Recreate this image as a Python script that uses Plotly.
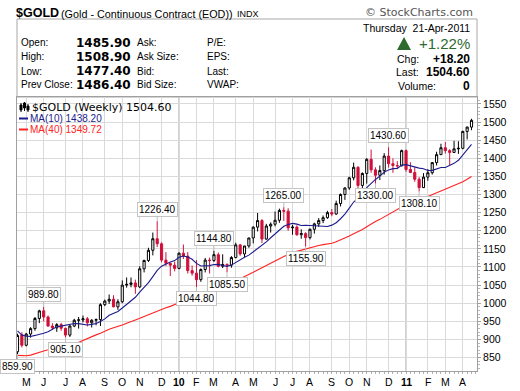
import plotly.graph_objects as go
import pandas as pd

# ---------------- data (weekly, Monday of each week) ----------------
week_start = "2009-04-20"
n_weeks = 105
opens = [866, 913, 884, 915, 930, 958, 979, 962, 937, 932, 941, 931, 912, 937, 953, 954, 957, 946, 953, 955,
         996, 1006, 1011, 990, 1004, 1050, 1052, 1056, 1045, 1095, 1118, 1146, 1178, 1164, 1119, 1110, 1105, 1096, 1138, 1130,
         1090, 1083, 1065, 1093, 1119, 1118, 1134, 1102, 1107, 1105, 1126, 1161, 1136, 1158, 1180, 1210, 1228, 1177, 1213, 1218,
         1229, 1256, 1254, 1208, 1210, 1189, 1192, 1181, 1204, 1219, 1228, 1236, 1250, 1246, 1275, 1300, 1318, 1346, 1375, 1325,
         1358, 1397, 1368, 1353, 1366, 1406, 1385, 1380, 1379, 1421, 1369, 1360.8, 1342, 1319, 1348, 1360, 1388, 1410, 1429, 1421,
         1416, 1426, 1427.4, 1474, 1485.9]
highs = [916, 920, 918, 934, 962, 982, 989.8, 966, 945, 945, 946, 932, 940, 957, 962, 966, 962, 956, 958, 1000,
         1010, 1024, 1022, 1011, 1063, 1071, 1071, 1065, 1102, 1120, 1153, 1195, 1226.4, 1168, 1141, 1112, 1115, 1140, 1162, 1141,
         1104, 1119, 1096, 1125, 1126, 1144.8, 1140, 1135, 1110, 1130, 1167, 1163, 1158, 1181, 1212, 1249, 1232, 1219, 1223, 1253,
         1261, 1265, 1262, 1216, 1215, 1204, 1196, 1206, 1222, 1235, 1242, 1255, 1260, 1283, 1303, 1320, 1349, 1388, 1378, 1361,
         1400, 1424, 1375, 1380, 1414, 1430.6, 1400, 1392, 1424, 1424, 1389, 1375, 1348, 1359, 1370, 1389, 1418, 1440, 1445, 1425,
         1448, 1447, 1476, 1487, 1508.9]
lows = [859.9, 878, 881, 905, 924, 945, 950, 935, 926, 921, 924, 905.1, 907, 934, 930, 947, 936, 933, 939, 937,
        992, 998, 989, 982, 1000, 1043, 1044, 1026, 1042, 1085, 1114, 1132, 1155, 1113, 1103, 1075, 1088, 1094, 1122, 1082,
        1076, 1044.8, 1059, 1085, 1082, 1114, 1099, 1097, 1085.5, 1098, 1124, 1131, 1127, 1153, 1165, 1198, 1166, 1175, 1195, 1212,
        1222, 1227, 1200, 1189, 1186, 1178, 1155.9, 1176, 1192, 1211, 1221, 1233, 1240, 1244, 1267, 1285, 1313, 1339, 1317, 1318,
        1330, 1360, 1330, 1340, 1355, 1374, 1360, 1370, 1378, 1363, 1359, 1335, 1308.1, 1318, 1338, 1355, 1380, 1409, 1413, 1380,
        1415, 1412, 1425, 1452, 1477.4]
closes = [911, 884, 915, 930, 958, 979, 962, 937, 932, 941, 931, 912, 937, 953, 954, 957, 946, 953, 955, 996,
          1006, 1011, 990, 1004, 1050, 1052, 1056, 1045, 1095, 1118, 1146, 1178, 1164, 1119, 1110, 1105, 1096, 1138, 1130, 1090,
          1083, 1065, 1093, 1119, 1118, 1134, 1102, 1107, 1105, 1126, 1161, 1136, 1158, 1180, 1210, 1228, 1177, 1213, 1218, 1229,
          1256, 1254, 1208, 1210, 1189, 1192, 1181, 1204, 1219, 1228, 1236, 1250, 1246, 1275, 1300, 1318, 1346, 1375, 1325, 1358,
          1397, 1368, 1353, 1366, 1406, 1385, 1380, 1379, 1421, 1369, 1360.8, 1342, 1319, 1348, 1360, 1388, 1410, 1429, 1421, 1416,
          1426, 1427.4, 1474, 1486, 1504.6]
# 39 weekly closes before the first shown week (needed for the moving averages)
prior_closes = [929, 912, 864, 785, 829, 833, 802, 762, 867, 887, 838, 860, 786, 734, 719, 736, 742, 794, 814, 753,
                822, 836, 872, 878, 851, 840, 897, 915, 912, 942, 1002, 942, 939, 930, 954, 925, 896, 870, 869]

high_label_weeks = [6, 32, 45, 61, 85]
low_label_weeks = [0, 11, 41, 48, 66, 82, 92]

month_ticks = ["2009-05-04", "2009-06-01", "2009-07-06", "2009-08-03", "2009-09-07", "2009-10-05", "2009-11-02",
               "2009-12-07", "2010-01-04", "2010-02-01", "2010-03-01", "2010-04-05", "2010-05-03", "2010-06-07",
               "2010-07-05", "2010-08-02", "2010-09-06", "2010-10-04", "2010-11-01", "2010-12-06", "2011-01-03",
               "2011-02-07", "2011-03-07", "2011-04-04"]
month_text = ["M", "J", "J", "A", "S", "O", "N", "D", "<b>10</b>", "F", "M", "A", "M", "J", "J", "A", "S", "O", "N",
              "D", "<b>11</b>", "F", "M", "A"]
year_lines = ["2010-01-04", "2011-01-03"]
y_ticks = list(range(850, 1551, 50))

weeks = pd.date_range(week_start, periods=n_weeks, freq="7D")
all_closes = pd.Series(prior_closes + closes)
ma10 = all_closes.rolling(10).mean().iloc[len(prior_closes):].tolist()
ma40 = all_closes.rolling(40).mean().iloc[len(prior_closes):].tolist()

# ---------------- layout helpers ----------------
W, H = 520, 391
PL, PR, PT, PB = 17, 477, 97, 371


def px(x):
    return (x - PL) / (PR - PL)


def py(y):
    return (PB - y) / (PB - PT)


RED = "#d0103a"
NAVY = "#1c1c8c"
MA_RED = "#ff2222"
GRID = "#dadada"
DKGREEN = "#2e6a2e"

fig = go.Figure()
fig.add_trace(go.Candlestick(
    x=weeks, open=opens, high=highs, low=lows, close=closes,
    increasing=dict(line=dict(color="black", width=1), fillcolor="white"),
    decreasing=dict(line=dict(color=RED, width=1), fillcolor=RED),
    whiskerwidth=0, showlegend=False, hoverinfo="skip"))
fig.add_trace(go.Scatter(x=weeks, y=ma40, mode="lines", line=dict(color=MA_RED, width=1.1),
                         showlegend=False, hoverinfo="skip"))
fig.add_trace(go.Scatter(x=weeks, y=ma10, mode="lines", line=dict(color=NAVY, width=1.1),
                         showlegend=False, hoverinfo="skip"))

shapes = []
# header box
shapes.append(dict(type="rect", xref="paper", yref="paper", x0=0, x1=1, y0=py(97), y1=py(19),
                   line=dict(color="#a8a8a8", width=1), fillcolor="white", layer="below"))
# year separators
for d in year_lines:
    shapes.append(dict(type="line", xref="x", yref="paper", x0=d, x1=d, y0=0, y1=1,
                       line=dict(color="#a0a0a0", width=1), layer="below"))
# green up triangle
shapes.append(dict(type="path", xref="paper", yref="paper",
                   path=f"M {px(397)} {py(50)} L {px(411)} {py(50)} L {px(404)} {py(37)} Z",
                   fillcolor=DKGREEN, line=dict(width=0)))
# legend icons
shapes.append(dict(type="line", xref="paper", yref="paper", x0=px(19), x1=px(28), y0=py(118.5), y1=py(118.5),
                   line=dict(color=NAVY, width=2)))
shapes.append(dict(type="line", xref="paper", yref="paper", x0=px(19), x1=px(28), y0=py(129.5), y1=py(129.5),
                   line=dict(color=MA_RED, width=2)))
for (xa, y0, y1, b0, b1) in [(21, 103, 112, 105, 110), (24.5, 102, 111, 103, 108), (28, 104, 112, 106, 110)]:
    shapes.append(dict(type="line", xref="paper", yref="paper", x0=px(xa), x1=px(xa), y0=py(y0), y1=py(y1),
                       line=dict(color="black", width=1)))
    shapes.append(dict(type="rect", xref="paper", yref="paper", x0=px(xa - 1), x1=px(xa + 1), y0=py(b0), y1=py(b1),
                       line=dict(color="black", width=1), fillcolor="black"))

ann = []


def txt(x, y, s, size=11, color="black", anchor="left", family="Liberation Sans", bold=False):
    if bold:
        s = f"<b>{s}</b>"
    ann.append(dict(xref="paper", yref="paper", x=px(x), y=py(y), text=s, showarrow=False,
                    xanchor=anchor, yanchor="middle", borderpad=0,
                    font=dict(size=size, color=color, family=family)))


# title line
txt(15, 13, "$GOLD", size=12.5, family="Liberation Sans", bold=True)
txt(60, 13.5, "(Gold - Continuous Contract (EOD))", size=10.8)
txt(236, 14, "INDX", size=9)
txt(474, 13, "© StockCharts.com", size=11, color="#555555", anchor="right", family="DejaVu Sans")

# quote table
rows = [43, 57, 71, 84.5]
col1 = ["Open:", "High:", "Low:", "Prev Close:"]
col2 = ["1485.90", "1508.90", "1477.40", "1486.40"]
col3 = ["Ask:", "Ask Size:", "Bid:", "Bid Size:"]
col4 = ["P/E:", "EPS:", "Last:", "VWAP:"]
for yy, a, b, c, d in zip(rows, col1, col2, col3, col4):
    txt(20, yy, a, size=10)
    txt(132, yy, b, size=12, family="DejaVu Sans", bold=True, anchor="right")
    txt(136, yy, c, size=10)
    txt(206, yy, d, size=10)

txt(471, 27.5, "Thursday  21-Apr-2011", size=10.5, anchor="right")
txt(471, 43.5, "+1.22%", size=15, color=DKGREEN, anchor="right")
txt(396, 59.5, "Chg:", size=10.5)
txt(471, 59.5, "+18.20", size=12, family="Liberation Sans", bold=True, anchor="right")
txt(395, 72, "Last:", size=10.5)
txt(471, 72, "1504.60", size=12, family="Liberation Sans", bold=True, anchor="right")
txt(397, 86, "Volume:", size=10.5)
txt(471, 86, "0", size=12, family="Liberation Sans", bold=True, anchor="right")

# chart legend
txt(31, 107.5, f"$GOLD (Weekly) {closes[-1]:.2f}", size=11, family="DejaVu Sans")
txt(29, 118.5, f"MA(10) {ma10[-1]:.2f}", size=10, color=NAVY)
txt(29, 129.5, f"MA(40) {ma40[-1]:.2f}", size=10, color=MA_RED)

# month labels along the bottom
for d, t in zip(month_ticks, month_text):
    ann.append(dict(xref="x", yref="paper", x=d, y=py(382), text=t, showarrow=False,
                    xanchor="center", yanchor="middle", borderpad=0,
                    font=dict(size=10.5, family="Liberation Sans", color="black")))

# high / low call-outs
lab_style = dict(showarrow=True, arrowhead=0, arrowwidth=1, arrowcolor="#bdbdbd", ax=0,
                 bordercolor="#c4c4c4", borderwidth=1, borderpad=1, bgcolor="white",
                 font=dict(size=10, color="black", family="Liberation Sans"))
for i in high_label_weeks:
    ann.append(dict(xref="x", yref="y", x=weeks[i], y=highs[i], text=f"{highs[i]:.2f}", ay=-12, **lab_style))
for i in low_label_weeks:
    ann.append(dict(xref="x", yref="y", x=weeks[i], y=lows[i], text=f"{lows[i]:.2f}", ay=12, **lab_style))

DAY = 86400000
fig.update_layout(
    width=W, height=H,
    margin=dict(l=PL, r=W - PR, t=PT, b=H - PB, pad=0, autoexpand=False),
    paper_bgcolor="white", plot_bgcolor="white",
    shapes=shapes, annotations=ann,
    showlegend=False,
    xaxis=dict(type="date", range=["2009-04-19 05:00", "2011-04-26 19:00"],
               rangeslider=dict(visible=False), automargin=False,
               tickmode="array", tickvals=month_ticks, showticklabels=False,
               showgrid=True, gridcolor=GRID, gridwidth=1,
               showline=True, linecolor="#a0a0a0", linewidth=1, mirror=True,
               ticks="",
               minor=dict(ticks="outside", ticklen=2, tickcolor="#b0b0b0", dtick=7 * DAY, tick0=week_start,
                          showgrid=False),
               fixedrange=True),
    yaxis=dict(side="right", range=[813, 1569], tickmode="array", tickvals=y_ticks, automargin=False,
               ticktext=[str(v) for v in y_ticks],
               showgrid=True, gridcolor=GRID, gridwidth=1,
               showline=True, linecolor="#a0a0a0", linewidth=1, mirror=True,
               ticks="outside", ticklen=3, tickcolor="#a0a0a0",
               tickfont=dict(size=10.5, family="Liberation Sans", color="black"),
               minor=dict(ticks="outside", ticklen=2, tickcolor="#b8b8b8", dtick=10, showgrid=False),
               fixedrange=True),
)

fig.write_html("out.html", post_script="document.body.style.margin='0px';",
               config={"displayModeBar": False})
